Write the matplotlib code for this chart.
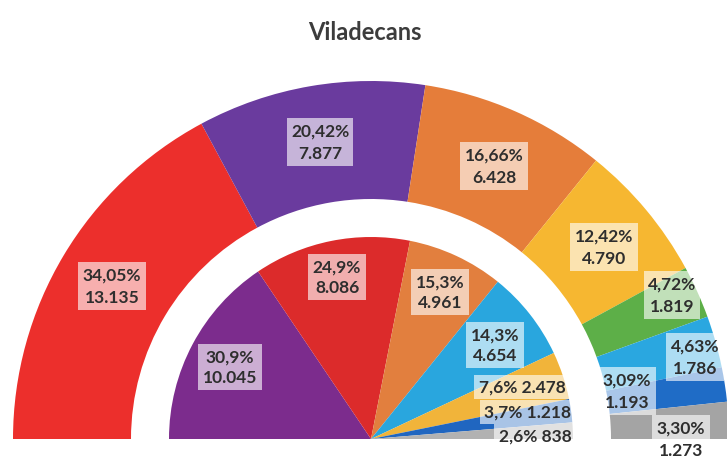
import matplotlib.pyplot as plt

# outer ring (left to right)
outer_pct = [34.05, 20.42, 16.66, 12.42, 4.72, 4.63, 3.09, 3.30]
outer_votes = [13135, 7877, 6428, 4790, 1819, 1786, 1193, 1273]
outer_colors = ['#ec2f2c', '#6a3b9e', '#e57d3a', '#f6b731', '#5daf48',
                '#2aa7e0', '#1f6cc6', '#a4a4a4']

# inner half pie (left to right)
inner_pct = [30.9, 24.9, 15.3, 14.3, 7.6, 3.7, 2.6]
inner_votes = [10045, 8086, 4961, 4654, 2478, 1218, 838]
inner_colors = ['#7c2c8d', '#dc2b2b', '#e27f3e', '#29a6de', '#f1b43a',
                '#2066c0', '#b2b2b2']

# label anchors (pixels, image y from top)
outer_lbl_xy = [(112, 287), (320, 143), (494, 167), (604, 248),
                (672, 296), (695, 358), (627, 392), (681, 440)]
inner_lbl_xy = [(230, 368), (337, 278), (440, 293), (495, 346),
                (522, 388), (528, 413), (535, 437)]
inner_one_line = [False, False, False, False, True, True, True]

W, H = 727, 464
cx, cy = 371, H - 440
R_out, ring_w, R_in = 358, 118, 202


def pct_txt(p, nd):
    return f"{p:.{nd}f}".replace('.', ',') + '%'


def votes_txt(v):
    return f"{v:,}".replace(',', '.')


plt.rcParams['font.family'] = ['Lato', 'DejaVu Sans']

fig = plt.figure(figsize=(W / 100, H / 100), dpi=100)
ax = fig.add_axes([0, 0, 1, 1])

def half_pie(vals, cols, radius, width=None):
    wp = dict(linewidth=0)
    if width:
        wp['width'] = width
    wedges, _ = ax.pie(vals + [sum(vals)], colors=cols + ['none'],
                       radius=radius, center=(cx, cy), startangle=180,
                       counterclock=False, wedgeprops=wp, frame=False)
    wedges[-1].set_visible(False)

half_pie(outer_pct, outer_colors, R_out, ring_w)
half_pie(inner_pct, inner_colors, R_in)

box = dict(boxstyle='square,pad=0.25', fc='white', ec='none', alpha=0.62)
txt_col = '#2e2e2e'

for p, v, (x, y) in zip(outer_pct, outer_votes, outer_lbl_xy):
    ax.text(x, H - y, pct_txt(p, 2) + '\n' + votes_txt(v), ha='center',
            va='center', fontsize=12.5, fontweight='bold', color=txt_col,
            linespacing=1.5, bbox=box)

for p, v, (x, y), one in zip(inner_pct, inner_votes, inner_lbl_xy, inner_one_line):
    sep = ' ' if one else '\n'
    ax.text(x, H - y, pct_txt(p, 1) + sep + votes_txt(v), ha='center',
            va='center', fontsize=12.5, fontweight='bold', color=txt_col,
            linespacing=1.35, bbox=box)

ax.text(365, H - 32, 'Viladecans', ha='center', va='center', fontsize=17,
        fontweight='bold', color='#3c3c3c')

ax.set_xlim(0, W)
ax.set_ylim(0, H)
ax.set_aspect('equal')
ax.axis('off')

fig.savefig('out.png', dpi=100)
